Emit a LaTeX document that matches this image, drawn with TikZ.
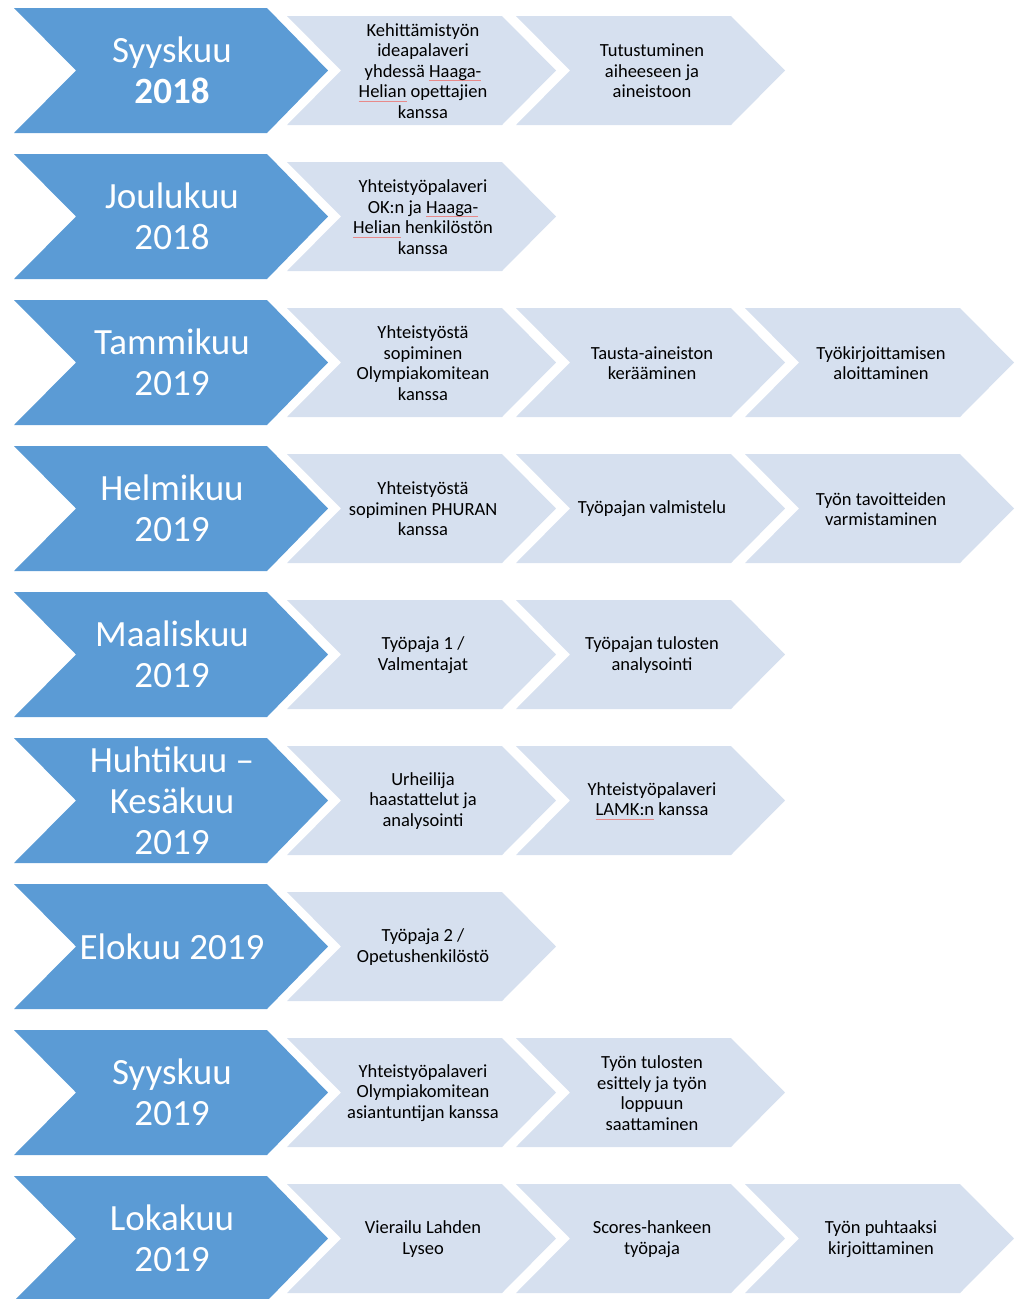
\documentclass[tikz,border=0pt]{standalone}
\usepackage{fontspec}
\setmainfont{Carlito}
\definecolor{monthblue}{HTML}{5B9BD5}
\definecolor{tasklight}{HTML}{D6E0EF}
\definecolor{spellred}{HTML}{E88A8A}

% faint spell-check underline below a word
\newcommand\spellmark[1]{\setbox0\hbox{#1}\leavevmode\rlap{\color{spellred}\rule[-3.5pt]{\wd0}{0.45pt}}\box0\relax}

\tikzset{
  monthfill/.style={fill=monthblue},
  taskfill/.style={fill=tasklight},
  monthtext/.style={text=white, align=center, inner sep=0pt,
    font=\fontsize{37}{41}\selectfont},
  tasktext/.style={text=black, align=center, inner sep=0pt,
    font=\fontsize{18.5}{20.5}\selectfont},
}

% big month chevron: #1 row, #2 node name, #3 label
\newcommand\monthchev[3]{%
  \pgfmathsetmacro\yt{8+146*#1}%
  \fill[monthfill] (14,-\yt) -- ++(253,0) -- ++(61,-62.5) -- ++(-61,-62.5)
     -- ++(-253,0) -- ++(62,62.5) -- cycle;
  \node[monthtext] (#2) at (172,-\yt-62.5) {#3};
}
% task chevron: #1 row, #2 column, #3 node name, #4 label
\newcommand\taskchev[4]{%
  \pgfmathsetmacro\yt{16+146*#1}%
  \pgfmathsetmacro\xl{287+229*#2}%
  \fill[taskfill] (\xl,-\yt) -- ++(215,0) -- ++(54,-54.5) -- ++(-54,-54.5)
     -- ++(-215,0) -- ++(54,54.5) -- cycle;
  \node[tasktext] (#3) at (\xl+136,-\yt-55) {#4};
}

\begin{document}
\begin{tikzpicture}[x=1pt,y=1pt]
\useasboundingbox (0,0) rectangle (1018,-1299);
\clip (0,0) rectangle (1018,-1299);

% Syyskuu 2018
\monthchev{0}{m1}{Syyskuu\\\textbf{2018}}
\taskchev{0}{0}{t1a}{Kehittämistyön\\ideapalaveri\\yhdessä \spellmark{Haaga-}\\\spellmark{Helian} opettajien\\kanssa}
\taskchev{0}{1}{t1b}{Tutustuminen\\aiheeseen ja\\aineistoon}

% Joulukuu 2018
\monthchev{1}{m2}{Joulukuu\\2018}
\taskchev{1}{0}{t2a}{Yhteistyöpalaveri\\OK:n ja \spellmark{Haaga-}\\\spellmark{Helian} henkilöstön\\kanssa}

% Tammikuu 2019
\monthchev{2}{m3}{Tammikuu\\2019}
\taskchev{2}{0}{t3a}{Yhteistyöstä\\sopiminen\\Olympiakomitean\\kanssa}
\taskchev{2}{1}{t3b}{Tausta-aineiston\\kerääminen}
\taskchev{2}{2}{t3c}{Työkirjoittamisen\\aloittaminen}

% Helmikuu 2019
\monthchev{3}{m4}{Helmikuu\\2019}
\taskchev{3}{0}{t4a}{Yhteistyöstä\\sopiminen PHURAN\\kanssa}
\taskchev{3}{1}{t4b}{Työpajan valmistelu}
\taskchev{3}{2}{t4c}{Työn tavoitteiden\\varmistaminen}

% Maaliskuu 2019
\monthchev{4}{m5}{Maaliskuu\\2019}
\taskchev{4}{0}{t5a}{Työpaja 1 /\\Valmentajat}
\taskchev{4}{1}{t5b}{Työpajan tulosten\\analysointi}

% Huhtikuu - Kesäkuu 2019
\monthchev{5}{m6}{Huhtikuu –\\Kesäkuu\\2019}
\taskchev{5}{0}{t6a}{Urheilija\\haastattelut ja\\analysointi}
\taskchev{5}{1}{t6b}{Yhteistyöpalaveri\\\spellmark{LAMK:n} kanssa}

% Elokuu 2019
\monthchev{6}{m7}{Elokuu 2019}
\taskchev{6}{0}{t7a}{Työpaja 2 /\\Opetushenkilöstö}

% Syyskuu 2019
\monthchev{7}{m8}{Syyskuu\\2019}
\taskchev{7}{0}{t8a}{Yhteistyöpalaveri\\Olympiakomitean\\asiantuntijan kanssa}
\taskchev{7}{1}{t8b}{Työn tulosten\\esittely ja työn\\loppuun\\saattaminen}

% Lokakuu 2019
\monthchev{8}{m9}{Lokakuu\\2019}
\taskchev{8}{0}{t9a}{Vierailu Lahden\\Lyseo}
\taskchev{8}{1}{t9b}{Scores-hankeen\\työpaja}
\taskchev{8}{2}{t9c}{Työn puhtaaksi\\kirjoittaminen}
\end{tikzpicture}
\end{document}
